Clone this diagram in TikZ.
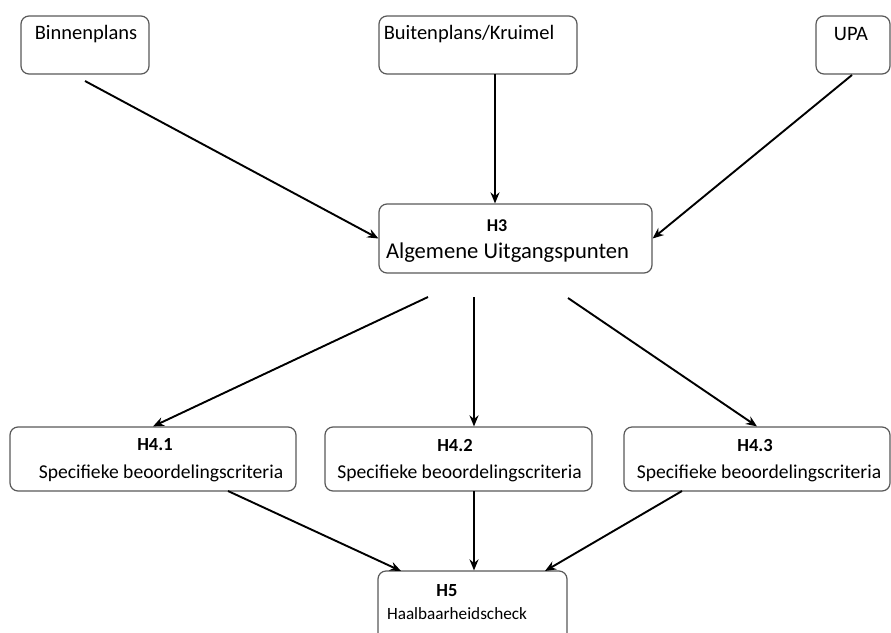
\documentclass[tikz,border=0pt]{standalone}
\usepackage{fontspec}
\setmainfont{Carlito}
\usetikzlibrary{arrows.meta}
\begin{document}
\begin{tikzpicture}[x=1pt,y=-1pt,
  box/.style={draw=black!65,line width=1.2pt,rounded corners=8pt,fill=white,inner sep=0pt},
  lbl/.style={inner sep=0pt,anchor=center},
  conn/.style={line width=1.9pt,-{Stealth[length=11pt,width=9pt]}}]
\clip (0,0) rectangle (891,632);
\useasboundingbox (0,0) rectangle (891,632);
% boxes
\node[box,minimum width=128pt,minimum height=58pt] (bin) at (85,45) {};
\node[box,minimum width=198pt,minimum height=58pt] (bk) at (478,45) {};
\node[box,minimum width=74pt,minimum height=58pt] (upa) at (853,45) {};
\node[box,minimum width=273pt,minimum height=69pt] (h3) at (515.5,238.5) {};
\node[box,minimum width=286pt,minimum height=64pt] (h41) at (153,459) {};
\node[box,minimum width=267pt,minimum height=64pt] (h42) at (458.5,459) {};
\node[box,minimum width=266pt,minimum height=64pt] (h43) at (757,459) {};
\node[box,minimum width=189pt,minimum height=79pt] (h5) at (472.5,610.5) {};
% texts
\node[lbl,font=\fontsize{20.5}{24}\selectfont] (tbin) at (86,34) {Binnenplans};
\node[lbl,font=\fontsize{20.5}{24}\selectfont] (tbk) at (469,34) {Buitenplans/Kruimel};
\node[lbl,font=\fontsize{20.5}{24}\selectfont] (tupa) at (851,34) {UPA};
\node[lbl,font=\fontsize{18}{20}\selectfont\bfseries] (th3a) at (497,226) {H3};
\node[lbl,font=\fontsize{22.6}{26}\selectfont] (th3b) at (507.5,253) {Algemene Uitgangspunten};
\node[lbl,font=\fontsize{18.5}{22}\selectfont\bfseries] (t41a) at (155,445) {H4.1};
\node[lbl,font=\fontsize{19.6}{23}\selectfont] (t41b) at (161,473) {Specifieke beoordelingscriteria};
\node[lbl,font=\fontsize{18.5}{22}\selectfont\bfseries] (t42a) at (455,445) {H4.2};
\node[lbl,font=\fontsize{19.6}{23}\selectfont] (t42b) at (459.5,473) {Specifieke beoordelingscriteria};
\node[lbl,font=\fontsize{18.5}{22}\selectfont\bfseries] (t43a) at (755,445) {H4.3};
\node[lbl,font=\fontsize{19.6}{23}\selectfont] (t43b) at (759,473) {Specifieke beoordelingscriteria};
\node[lbl,font=\fontsize{18.5}{22}\selectfont\bfseries] (t5a) at (447,591) {H5};
\node[lbl,font=\fontsize{17.2}{20}\selectfont] (t5b) at (457,614) {Haalbaarheidscheck};
% connector start points
\coordinate (s1) at (85,81);
\coordinate (s2) at (495,74);
\coordinate (s3) at (852,75);
\coordinate (s4) at (428,297);
\coordinate (s5) at (474,297);
\coordinate (s6) at (568,298);
\coordinate (s7) at (228,491);
\coordinate (s8) at (474,491);
\coordinate (s9) at (682,491);
\coordinate (e7) at (401,571);
\coordinate (e9) at (545,571);
% connectors
\draw[conn] (s1) -- (h3.west);
\draw[conn] (s2) -- (s2 |- h3.north);
\draw[conn] (s3) -- (h3.east);
\draw[conn] (s4) -- (h41.north);
\draw[conn] (s5) -- (s5 |- h42.north);
\draw[conn] (s6) -- (h43.north);
\draw[conn] (s7) -- (e7);
\draw[conn] (s8) -- (s8 |- h5.north);
\draw[conn] (s9) -- (e9);
\end{tikzpicture}
\end{document}
